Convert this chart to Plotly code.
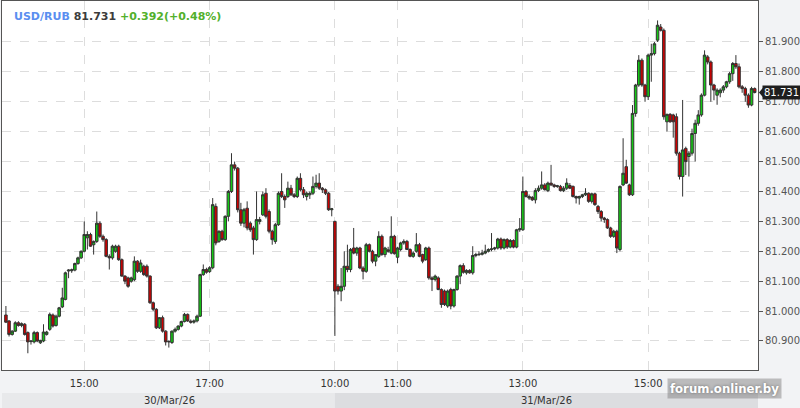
import pandas as pd
import plotly.graph_objects as go

# ---------------- data: 3-minute USD/RUB candles ----------------
open_30 = [80.987, 80.967, 80.922, 80.933, 80.961, 80.952, 80.956, 80.928, 80.898, 80.897,
           80.928, 80.894, 80.900, 80.922, 80.939, 80.987, 80.952, 80.983, 81.014, 81.039,
           81.134, 81.135, 81.137, 81.159, 81.178, 81.200, 81.245, 81.256, 81.222, 81.233,
           81.294, 81.250, 81.239, 81.183, 81.178, 81.200, 81.217, 81.172, 81.117, 81.111,
           81.100, 81.105, 81.167, 81.133, 81.150, 81.150, 81.117, 81.028, 81.006, 80.944,
           80.978, 80.933, 80.897, 80.895, 80.933, 80.939, 80.950, 80.965, 80.989, 80.966,
           80.963, 80.967, 80.983, 81.122, 81.139, 81.132, 81.145, 81.350, 81.233, 81.267,
           81.239, 81.317, 81.400, 81.489, 81.478, 81.339, 81.294, 81.344, 81.294, 81.278,
           81.239, 81.300, 81.322, 81.394, 81.333, 81.267, 81.233, 81.289, 81.400, 81.383,
           81.383, 81.411, 81.389, 81.383, 81.444, 81.406, 81.383, 81.389, 81.394, 81.417,
           81.428, 81.411, 81.406, 81.394, 81.339]
high_30 = [81.017, 80.970, 80.936, 80.966, 80.966, 80.962, 80.960, 80.932, 80.902, 80.934,
           80.932, 80.904, 80.956, 80.934, 80.995, 80.992, 80.988, 81.014, 81.078, 81.132,
           81.140, 81.142, 81.162, 81.182, 81.203, 81.300, 81.267, 81.262, 81.236, 81.333,
           81.300, 81.256, 81.244, 81.190, 81.222, 81.222, 81.222, 81.176, 81.120, 81.115,
           81.115, 81.183, 81.170, 81.172, 81.155, 81.156, 81.120, 81.032, 81.010, 80.980,
           80.985, 80.936, 80.902, 80.935, 80.945, 80.952, 80.968, 80.994, 80.992, 80.972,
           80.972, 80.988, 81.125, 81.156, 81.145, 81.150, 81.378, 81.360, 81.270, 81.272,
           81.320, 81.405, 81.528, 81.500, 81.482, 81.362, 81.345, 81.367, 81.300, 81.285,
           81.400, 81.315, 81.400, 81.411, 81.340, 81.272, 81.295, 81.400, 81.461, 81.390,
           81.433, 81.422, 81.395, 81.450, 81.461, 81.415, 81.400, 81.400, 81.450, 81.456,
           81.461, 81.415, 81.410, 81.398, 81.345]
low_30 = [80.960, 80.915, 80.918, 80.930, 80.948, 80.946, 80.918, 80.859, 80.888, 80.892,
          80.896, 80.890, 80.896, 80.918, 80.934, 80.945, 80.948, 80.979, 81.010, 81.036,
          81.110, 81.128, 81.133, 81.155, 81.174, 81.196, 81.206, 81.215, 81.189, 81.228,
          81.245, 81.232, 81.180, 81.139, 81.172, 81.195, 81.168, 81.115, 81.090, 81.078,
          81.095, 81.100, 81.128, 81.128, 81.118, 81.112, 81.024, 81.000, 80.940, 80.940,
          80.928, 80.885, 80.878, 80.890, 80.928, 80.935, 80.946, 80.962, 80.964, 80.958,
          80.958, 80.962, 80.980, 81.118, 81.125, 81.128, 81.140, 81.220, 81.228, 81.235,
          81.235, 81.300, 81.395, 81.470, 81.330, 81.285, 81.280, 81.270, 81.265, 81.189,
          81.235, 81.290, 81.318, 81.310, 81.260, 81.222, 81.225, 81.285, 81.378, 81.345,
          81.378, 81.385, 81.378, 81.378, 81.400, 81.378, 81.370, 81.375, 81.388, 81.410,
          81.405, 81.395, 81.388, 81.335, 81.317]
close_30 = [80.963, 80.922, 80.933, 80.961, 80.952, 80.958, 80.922, 80.897, 80.900, 80.928,
            80.900, 80.902, 80.930, 80.930, 80.989, 80.950, 80.983, 81.011, 81.044, 81.128,
            81.137, 81.138, 81.159, 81.178, 81.200, 81.256, 81.256, 81.217, 81.233, 81.294,
            81.250, 81.239, 81.183, 81.178, 81.217, 81.217, 81.172, 81.117, 81.100, 81.083,
            81.111, 81.167, 81.133, 81.161, 81.122, 81.117, 81.028, 81.006, 80.944, 80.978,
            80.933, 80.897, 80.898, 80.933, 80.939, 80.950, 80.965, 80.989, 80.967, 80.963,
            80.967, 80.983, 81.122, 81.139, 81.130, 81.145, 81.356, 81.228, 81.267, 81.239,
            81.317, 81.400, 81.489, 81.478, 81.339, 81.294, 81.339, 81.278, 81.272, 81.239,
            81.306, 81.306, 81.389, 81.317, 81.267, 81.239, 81.289, 81.394, 81.383, 81.372,
            81.411, 81.389, 81.383, 81.444, 81.406, 81.389, 81.394, 81.394, 81.417, 81.428,
            81.411, 81.406, 81.394, 81.339, 81.342]

open_31 = [81.300, 81.083, 81.067, 81.083, 81.150, 81.139, 81.211, 81.194, 81.211, 81.144,
           81.133, 81.222, 81.200, 81.167, 81.183, 81.250, 81.189, 81.205, 81.194, 81.250,
           81.180, 81.206, 81.228, 81.233, 81.206, 81.183, 81.200, 81.222, 81.189, 81.172,
           81.211, 81.111, 81.106, 81.111, 81.072, 81.067, 81.017, 81.072, 81.017, 81.072,
           81.117, 81.152, 81.128, 81.136, 81.128, 81.186, 81.189, 81.190, 81.194, 81.200,
           81.206, 81.208, 81.211, 81.241, 81.211, 81.239, 81.214, 81.236, 81.214, 81.272,
           81.272, 81.400, 81.383, 81.380, 81.372, 81.403, 81.411, 81.422, 81.403, 81.428,
           81.422, 81.417, 81.417, 81.403, 81.411, 81.420, 81.417, 81.383, 81.378, 81.383,
           81.389, 81.394, 81.367, 81.392, 81.350, 81.333, 81.311, 81.306, 81.278, 81.250,
           81.267, 81.206, 81.422, 81.483, 81.422, 81.389, 81.661, 81.756, 81.839, 81.756,
           81.717, 81.856, 81.861, 81.906, 81.950, 81.939, 81.633, 81.658, 81.656, 81.650,
           81.528, 81.450, 81.544, 81.517, 81.528, 81.594, 81.628, 81.656, 81.722, 81.850,
           81.833, 81.756, 81.722, 81.730, 81.739, 81.750, 81.767, 81.794, 81.828, 81.817,
           81.750, 81.744, 81.722, 81.689, 81.744]
high_31 = [81.302, 81.090, 81.144, 81.200, 81.222, 81.211, 81.278, 81.215, 81.215, 81.150,
           81.228, 81.226, 81.205, 81.190, 81.267, 81.256, 81.215, 81.215, 81.317, 81.255,
           81.215, 81.232, 81.240, 81.238, 81.210, 81.200, 81.261, 81.228, 81.192, 81.215,
           81.216, 81.116, 81.122, 81.116, 81.076, 81.072, 81.072, 81.078, 81.075, 81.120,
           81.156, 81.160, 81.140, 81.140, 81.217, 81.195, 81.200, 81.205, 81.222, 81.210,
           81.261, 81.215, 81.245, 81.246, 81.243, 81.244, 81.241, 81.240, 81.275, 81.311,
           81.450, 81.405, 81.390, 81.385, 81.411, 81.420, 81.467, 81.428, 81.433, 81.489,
           81.426, 81.422, 81.422, 81.418, 81.444, 81.428, 81.420, 81.386, 81.386, 81.392,
           81.411, 81.397, 81.396, 81.396, 81.355, 81.338, 81.315, 81.310, 81.282, 81.272,
           81.272, 81.420, 81.578, 81.506, 81.426, 81.689, 81.760, 81.856, 81.845, 81.760,
           81.861, 81.894, 81.900, 81.972, 81.960, 81.945, 81.660, 81.662, 81.660, 81.661,
           81.533, 81.706, 81.550, 81.535, 81.610, 81.640, 81.672, 81.728, 81.872, 81.856,
           81.838, 81.760, 81.745, 81.745, 81.756, 81.770, 81.800, 81.833, 81.856, 81.828,
           81.756, 81.750, 81.728, 81.750, 81.748]
low_31 = [80.917, 81.055, 81.033, 81.070, 81.130, 81.130, 81.190, 81.185, 81.140, 81.106,
          81.128, 81.196, 81.160, 81.150, 81.178, 81.185, 81.180, 81.195, 81.190, 81.189,
          81.160, 81.200, 81.222, 81.204, 81.180, 81.178, 81.195, 81.180, 81.160, 81.168,
          81.105, 81.067, 81.100, 81.070, 81.011, 81.017, 81.011, 81.006, 81.012, 81.068,
          81.090, 81.125, 81.122, 81.125, 81.122, 81.180, 81.184, 81.186, 81.190, 81.196,
          81.200, 81.203, 81.206, 81.205, 81.206, 81.208, 81.210, 81.210, 81.210, 81.265,
          81.268, 81.380, 81.372, 81.368, 81.360, 81.398, 81.406, 81.403, 81.398, 81.418,
          81.412, 81.412, 81.400, 81.398, 81.405, 81.408, 81.380, 81.360, 81.356, 81.378,
          81.385, 81.362, 81.360, 81.352, 81.325, 81.300, 81.295, 81.275, 81.245, 81.245,
          81.194, 81.200, 81.418, 81.425, 81.385, 81.385, 81.650, 81.750, 81.750, 81.700,
          81.706, 81.767, 81.855, 81.900, 81.935, 81.640, 81.600, 81.630, 81.580, 81.520,
          81.440, 81.383, 81.455, 81.450, 81.520, 81.500, 81.620, 81.650, 81.718, 81.825,
          81.700, 81.705, 81.690, 81.715, 81.730, 81.745, 81.760, 81.770, 81.810, 81.745,
          81.730, 81.700, 81.680, 81.685, 81.728]
close_31 = [81.067, 81.067, 81.083, 81.150, 81.139, 81.206, 81.194, 81.211, 81.144, 81.133,
            81.222, 81.200, 81.167, 81.189, 81.250, 81.189, 81.211, 81.200, 81.250, 81.192,
            81.211, 81.228, 81.233, 81.206, 81.183, 81.194, 81.222, 81.183, 81.167, 81.211,
            81.111, 81.106, 81.117, 81.072, 81.022, 81.022, 81.067, 81.017, 81.072, 81.117,
            81.152, 81.130, 81.136, 81.128, 81.186, 81.189, 81.190, 81.194, 81.200, 81.206,
            81.208, 81.211, 81.241, 81.211, 81.239, 81.214, 81.236, 81.214, 81.272, 81.275,
            81.400, 81.383, 81.378, 81.372, 81.403, 81.411, 81.422, 81.406, 81.428, 81.422,
            81.417, 81.419, 81.403, 81.411, 81.428, 81.411, 81.383, 81.378, 81.383, 81.389,
            81.394, 81.367, 81.392, 81.356, 81.333, 81.311, 81.306, 81.278, 81.250, 81.267,
            81.211, 81.417, 81.461, 81.428, 81.389, 81.661, 81.756, 81.839, 81.756, 81.717,
            81.856, 81.861, 81.894, 81.956, 81.939, 81.650, 81.658, 81.633, 81.633, 81.528,
            81.450, 81.539, 81.500, 81.528, 81.594, 81.628, 81.656, 81.722, 81.856, 81.833,
            81.756, 81.739, 81.739, 81.739, 81.750, 81.767, 81.794, 81.828, 81.817, 81.750,
            81.744, 81.722, 81.689, 81.744, 81.731]

session_30_start = "2026-03-30 13:45"
session_31_start = "2026-03-31 10:00"
x_tick_vals = ["2026-03-30 15:00", "2026-03-30 17:00", "2026-03-31 10:00",
               "2026-03-31 11:00", "2026-03-31 13:00", "2026-03-31 15:00"]
x_tick_text = ["15:00", "17:00", "10:00", "11:00", "13:00", "15:00"]
y_tick_vals = [80.9, 81.0, 81.1, 81.2, 81.3, 81.4, 81.5, 81.6, 81.7, 81.8, 81.9]
day_labels = ["30/Mar/26", "31/Mar/26"]
symbol = "USD/RUB"
last_price = 81.731
change_text = "+0.392(+0.48%)"
watermark = "forum.onliner.by"

# ---------------- build ----------------
t30 = pd.date_range(session_30_start, periods=len(open_30), freq="3min")
t31 = pd.date_range(session_31_start, periods=len(open_31), freq="3min")
times = list(t30) + list(t31)

fig = go.Figure(go.Candlestick(
    x=times,
    open=open_30 + open_31, high=high_30 + high_31,
    low=low_30 + low_31, close=close_30 + close_31,
    increasing=dict(fillcolor="#14c814", line=dict(color="#333333", width=1)),
    decreasing=dict(fillcolor="#cc0000", line=dict(color="#333333", width=1)),
    whiskerwidth=0, hoverinfo="skip", showlegend=False,
))

x_start = "2026-03-30 13:41:15"
x_end = "2026-03-31 16:45:10"

fig.update_layout(
    width=800, height=408,
    margin=dict(l=2, r=42, t=1, b=38),
    paper_bgcolor="#f2f3f5", plot_bgcolor="#ffffff",
    font=dict(family="DejaVu Sans", size=10, color="#333"),
    showlegend=False,
    boxgap=0.1, boxgroupgap=0.1,
    xaxis=dict(
        type="date", range=[x_start, x_end],
        rangebreaks=[dict(bounds=[19, 10], pattern="hour")],
        rangeslider=dict(visible=False),
        tickvals=x_tick_vals, ticktext=x_tick_text,
        tickfont=dict(size=10, color="#333"),
        showgrid=True, gridcolor="#dddddd", griddash="dash", gridwidth=1,
        showline=True, linecolor="#555", linewidth=1, mirror=True,
        ticks="outside", ticklen=4, tickcolor="rgba(0,0,0,0)",
        zeroline=False, fixedrange=True,
    ),
    yaxis=dict(
        side="right", range=[80.803, 82.037],
        tickvals=y_tick_vals, tickformat=".3f",
        tickfont=dict(size=10, color="#555"),
        ticks="outside", ticklen=4, tickcolor="#555",
        showgrid=True, gridcolor="#dddddd", griddash="dash", gridwidth=1,
        showline=True, linecolor="#555", linewidth=1, mirror=True,
        zeroline=False, fixedrange=True,
    ),
)

# date band under the axis
band_y0, band_y1 = -0.103, -0.062
fig.add_shape(type="rect", xref="x", yref="paper", x0=x_start, x1=session_31_start,
              y0=band_y0, y1=band_y1, fillcolor="#e8e9eb", line=dict(width=0), layer="below")
fig.add_shape(type="rect", xref="x", yref="paper", x0=session_31_start, x1=x_end,
              y0=band_y0, y1=band_y1, fillcolor="#dcdde0", line=dict(width=0), layer="below")
fig.add_annotation(x=0.222, y=(band_y0 + band_y1) / 2, xref="paper", yref="paper",
                   xanchor="center", yanchor="middle", text=day_labels[0], showarrow=False,
                   font=dict(size=10, color="#333"))
fig.add_annotation(x=0.720, y=(band_y0 + band_y1) / 2, xref="paper", yref="paper",
                   xanchor="center", yanchor="middle", text=day_labels[1], showarrow=False,
                   font=dict(size=10, color="#333"))

# header
fig.add_annotation(
    x=0.0132, y=1, xref="paper", yref="paper", xanchor="left", yanchor="top", yshift=-7,
    showarrow=False, align="left",
    text=(f"<b><span style='color:#5a8ef0'>{symbol}</span> "
          f"<span style='color:#3c3c3c'>{last_price:.3f}</span> "
          f"<span style='color:#52b02c'>{change_text}</span></b>"),
    font=dict(size=11),
)

# last price marker on the right axis
fig.add_annotation(x=1, y=last_price, xref="paper", yref="y", xanchor="left", xshift=4,
                   text=f"{last_price:.3f}", showarrow=False, bgcolor="#1e1e1e",
                   font=dict(size=10, color="#ffffff"), borderpad=1)
fig.add_shape(type="path", xref="paper", yref="y",
              path=f"M 1.0013,{last_price} L 1.0066,{last_price + 0.016} L 1.0066,{last_price - 0.016} Z",
              fillcolor="#1e1e1e", line=dict(width=0))

# watermark
fig.add_annotation(x=0.956, y=-0.05, xref="paper", yref="paper", showarrow=False,
                   xanchor="center", yanchor="middle",
                   text=f"<b>{watermark}</b>", bgcolor="rgba(120,120,120,0.45)", borderpad=2,
                   font=dict(family="DejaVu Sans Condensed", size=13, color="#ffffff",
                             shadow="0px 0px 3px #666"))

fig.write_html("out.html", config={"displayModeBar": False},
               post_script="document.body.style.margin='0';")
